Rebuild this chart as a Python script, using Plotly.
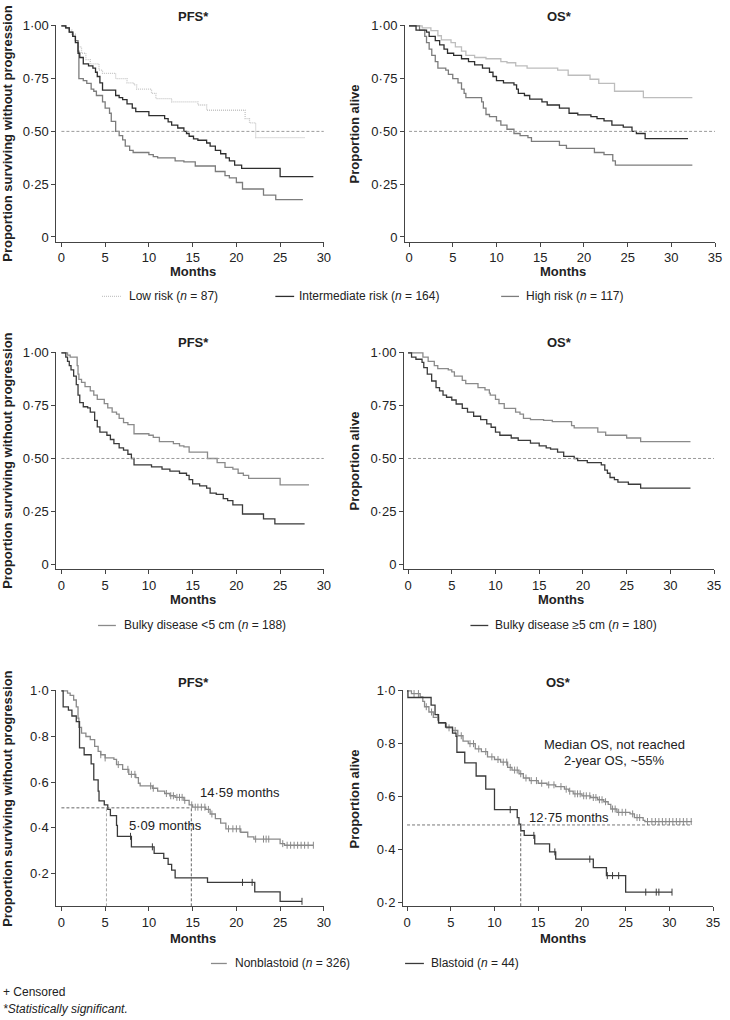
import numpy as np
import plotly.graph_objects as go

W, H = 730, 1020
FONT = "Liberation Sans, Arial, Helvetica, sans-serif"

# ---------------- DATA ----------------
# Row 1: PFS by risk group
low_pfs_t = [0, 0.4, 0.8, 1.2, 1.6, 1.9, 2.3, 2.8, 3.3, 4.3, 4.7, 6.2, 7.5, 8.3, 8.6, 10.3, 10.8, 12.6, 15.6, 16.6, 21.0, 21.5, 22.2, 27.8]
low_pfs_s = [1.00, 0.99, 0.98, 0.96, 0.93, 0.90, 0.87, 0.84, 0.82, 0.79, 0.775, 0.75, 0.73, 0.72, 0.70, 0.68, 0.655, 0.64, 0.625, 0.60, 0.56, 0.54, 0.47, 0.47]
int_pfs_t = [0, 0.5, 0.9, 1.3, 1.6, 1.9, 2.1, 2.5, 3.1, 3.6, 3.9, 4.1, 4.4, 4.7, 6.2, 6.6, 7.0, 7.5, 8.1, 8.5, 10.0, 11.8, 12.2, 12.6, 13.3, 14.0, 14.3, 14.6, 15.1, 15.6, 16.6, 17.0, 17.6, 18.2, 18.8, 19.2, 19.8, 20.6, 25.0, 28.8]
int_pfs_s = [1.00, 0.99, 0.97, 0.95, 0.92, 0.87, 0.85, 0.82, 0.81, 0.80, 0.78, 0.76, 0.73, 0.695, 0.67, 0.66, 0.65, 0.63, 0.61, 0.594, 0.575, 0.56, 0.545, 0.53, 0.516, 0.50, 0.49, 0.477, 0.465, 0.458, 0.445, 0.43, 0.41, 0.394, 0.375, 0.36, 0.34, 0.325, 0.286, 0.286]
high_pfs_t = [0, 0.5, 0.9, 1.3, 1.6, 1.9, 2.0, 2.5, 2.9, 3.4, 3.7, 4.0, 4.7, 5.0, 5.5, 5.7, 6.2, 6.6, 7.0, 7.3, 7.8, 8.2, 10.0, 10.5, 11.0, 13.0, 14.0, 15.3, 17.6, 18.7, 19.2, 20.0, 20.7, 23.1, 24.5, 27.6]
high_pfs_s = [1.00, 0.99, 0.97, 0.95, 0.93, 0.88, 0.75, 0.74, 0.727, 0.70, 0.69, 0.67, 0.64, 0.61, 0.586, 0.547, 0.50, 0.48, 0.46, 0.43, 0.41, 0.40, 0.39, 0.38, 0.375, 0.36, 0.356, 0.336, 0.31, 0.29, 0.28, 0.258, 0.227, 0.198, 0.177, 0.177]

# Row 1: OS by risk group
low_os_t = [0, 1.5, 2.5, 3.3, 3.7, 4.8, 5.3, 6.0, 6.5, 7.5, 8.8, 10.5, 11.2, 12.2, 13.5, 17.0, 18.2, 20.7, 21.7, 23.5, 26.8, 32.4]
low_os_s = [1.00, 0.99, 0.977, 0.953, 0.933, 0.92, 0.90, 0.88, 0.86, 0.85, 0.844, 0.83, 0.825, 0.81, 0.80, 0.79, 0.766, 0.747, 0.727, 0.69, 0.66, 0.66]
int_os_t = [0, 0.8, 2.0, 2.3, 3.0, 3.5, 4.0, 4.4, 5.1, 6.0, 6.8, 7.5, 8.4, 9.2, 9.6, 10.0, 10.8, 12.0, 12.3, 12.5, 13.2, 13.8, 15.2, 15.8, 17.2, 18.3, 19.3, 20.8, 21.5, 22.3, 23.2, 24.5, 25.5, 26.0, 27.0, 31.9]
int_os_s = [1.00, 0.98, 0.97, 0.95, 0.93, 0.91, 0.89, 0.87, 0.86, 0.844, 0.83, 0.815, 0.80, 0.78, 0.76, 0.74, 0.73, 0.72, 0.70, 0.68, 0.67, 0.653, 0.64, 0.625, 0.61, 0.586, 0.578, 0.57, 0.56, 0.55, 0.53, 0.52, 0.50, 0.49, 0.466, 0.466]
high_os_t = [0, 1.2, 1.8, 2.0, 2.3, 2.6, 3.0, 3.3, 4.2, 4.5, 5.0, 5.6, 6.0, 6.3, 6.5, 8.3, 8.5, 8.8, 9.2, 10.0, 10.5, 11.2, 12.0, 12.7, 13.6, 14.0, 17.2, 18.0, 21.2, 22.3, 23.3, 23.6, 32.4]
high_os_s = [1.00, 0.98, 0.95, 0.92, 0.89, 0.86, 0.83, 0.80, 0.79, 0.77, 0.75, 0.73, 0.70, 0.68, 0.66, 0.64, 0.61, 0.58, 0.57, 0.55, 0.53, 0.51, 0.49, 0.48, 0.47, 0.453, 0.434, 0.42, 0.40, 0.39, 0.36, 0.34, 0.34]

# Row 2: bulky disease
lt5_pfs_t = [0, 0.7, 1.0, 1.8, 1.9, 2.0, 2.3, 2.7, 3.3, 3.7, 4.1, 4.9, 5.3, 5.8, 6.3, 6.6, 7.1, 7.6, 8.3, 10.0, 10.5, 11.2, 12.8, 13.5, 14.0, 14.6, 16.7, 17.8, 18.7, 19.6, 20.2, 20.8, 21.4, 25.0, 28.3]
lt5_pfs_s = [1.00, 0.99, 0.98, 0.94, 0.90, 0.875, 0.86, 0.84, 0.82, 0.80, 0.78, 0.76, 0.74, 0.72, 0.71, 0.69, 0.67, 0.66, 0.617, 0.61, 0.60, 0.58, 0.57, 0.56, 0.555, 0.53, 0.50, 0.48, 0.458, 0.45, 0.43, 0.42, 0.406, 0.375, 0.375]
ge5_pfs_t = [0, 0.5, 0.7, 0.9, 1.1, 1.4, 1.7, 1.9, 2.1, 2.5, 3.0, 3.3, 3.8, 4.1, 4.4, 5.2, 5.6, 6.0, 6.6, 7.1, 7.6, 8.0, 8.3, 10.3, 11.5, 12.4, 13.5, 14.3, 14.6, 15.0, 15.8, 16.6, 17.0, 17.7, 18.5, 19.0, 19.6, 20.7, 23.1, 24.4, 27.8]
ge5_pfs_s = [1.00, 0.98, 0.96, 0.94, 0.92, 0.89, 0.85, 0.80, 0.765, 0.745, 0.74, 0.72, 0.68, 0.65, 0.625, 0.61, 0.59, 0.57, 0.55, 0.54, 0.52, 0.50, 0.47, 0.46, 0.45, 0.44, 0.43, 0.42, 0.40, 0.38, 0.37, 0.36, 0.336, 0.33, 0.31, 0.30, 0.28, 0.237, 0.214, 0.19, 0.19]
lt5_os_t = [0, 1.7, 2.3, 3.0, 3.4, 4.6, 5.0, 5.3, 6.2, 6.6, 8.0, 8.8, 9.3, 9.4, 10.0, 10.4, 11.0, 12.3, 12.8, 13.2, 14.0, 15.5, 16.5, 18.7, 19.0, 21.7, 22.6, 25.0, 26.6, 32.3]
lt5_os_s = [1.00, 0.98, 0.96, 0.94, 0.926, 0.92, 0.91, 0.89, 0.87, 0.855, 0.836, 0.825, 0.81, 0.80, 0.78, 0.76, 0.737, 0.72, 0.71, 0.69, 0.684, 0.68, 0.675, 0.656, 0.645, 0.625, 0.61, 0.597, 0.58, 0.58]
ge5_os_t = [0, 0.4, 0.9, 1.6, 1.8, 2.2, 2.7, 3.2, 3.6, 4.0, 4.4, 5.0, 5.5, 6.2, 6.8, 7.5, 8.3, 9.0, 9.5, 10.0, 10.5, 11.8, 12.6, 14.0, 15.0, 15.8, 16.3, 17.1, 17.8, 19.0, 19.4, 20.5, 22.1, 22.5, 22.8, 23.1, 23.6, 24.0, 25.2, 26.6, 32.3]
ge5_os_s = [1.00, 0.98, 0.97, 0.955, 0.93, 0.90, 0.867, 0.836, 0.82, 0.80, 0.79, 0.777, 0.758, 0.737, 0.72, 0.70, 0.684, 0.664, 0.648, 0.625, 0.61, 0.597, 0.586, 0.573, 0.56, 0.55, 0.544, 0.53, 0.51, 0.50, 0.49, 0.48, 0.47, 0.445, 0.43, 0.41, 0.40, 0.388, 0.378, 0.36, 0.36]

# Row 3: blastoid vs nonblastoid
nb_pfs_t = [0, 0.7, 1.0, 1.4, 1.7, 1.9, 2.0, 2.3, 2.8, 3.3, 3.8, 4.2, 4.5, 5.0, 6.0, 6.3, 7.0, 7.7, 8.5, 8.8, 9.0, 10.4, 11.0, 11.8, 12.4, 13.0, 14.0, 14.6, 15.0, 16.5, 17.0, 17.6, 18.2, 18.8, 20.5, 21.3, 22.0, 25.0, 25.5, 28.8]
nb_pfs_s = [1.00, 0.99, 0.98, 0.96, 0.93, 0.88, 0.84, 0.815, 0.80, 0.786, 0.757, 0.735, 0.72, 0.706, 0.70, 0.677, 0.656, 0.634, 0.62, 0.595, 0.583, 0.573, 0.56, 0.55, 0.54, 0.533, 0.52, 0.50, 0.49, 0.48, 0.46, 0.44, 0.42, 0.395, 0.38, 0.36, 0.35, 0.33, 0.323, 0.323]
nb_pfs_cens = [4.5, 5.0, 6.5, 7.6, 8.0, 8.4, 10.2, 10.5, 12.0, 12.5, 12.8, 13.2, 13.5, 13.8, 14.1, 14.9, 15.3, 15.6, 16.0, 16.4, 16.8, 17.2, 19.1, 19.6, 20.0, 20.4, 22.2, 23.1, 23.4, 23.7, 25.3, 25.8, 26.2, 26.6, 27.0, 27.4, 27.8, 28.2, 28.8]
bl_pfs_t = [0, 0.2, 0.8, 1.2, 1.7, 2.07, 2.6, 3.4, 3.7, 4.2, 4.3, 4.9, 5.3, 5.6, 6.3, 6.4, 8.0, 10.6, 11.7, 12.2, 12.6, 13.0, 16.7, 22.1, 25.0, 27.5]
bl_pfs_s = [1.00, 0.93, 0.916, 0.89, 0.865, 0.75, 0.72, 0.68, 0.61, 0.56, 0.518, 0.50, 0.48, 0.453, 0.41, 0.362, 0.316, 0.287, 0.265, 0.239, 0.214, 0.18, 0.16, 0.118, 0.077, 0.077]
bl_pfs_cens = [7.9, 10.4, 20.7, 21.8, 27.5]

nb_os_t = [0, 0.5, 1.5, 1.8, 2.0, 2.5, 3.0, 3.6, 4.5, 5.2, 5.8, 6.4, 7.0, 7.8, 8.5, 9.2, 10.0, 10.7, 11.5, 12.0, 12.8, 13.3, 14.0, 15.0, 16.0, 17.0, 18.0, 18.5, 19.0, 20.0, 21.0, 21.8, 22.5, 23.0, 23.3, 24.0, 25.5, 26.0, 27.0, 27.2, 32.6]
nb_os_s = [1.00, 0.99, 0.977, 0.96, 0.94, 0.92, 0.90, 0.877, 0.86, 0.85, 0.83, 0.81, 0.80, 0.78, 0.77, 0.75, 0.74, 0.73, 0.71, 0.70, 0.686, 0.67, 0.66, 0.65, 0.644, 0.6375, 0.6275, 0.62, 0.61, 0.6025, 0.596, 0.5875, 0.58, 0.57, 0.5525, 0.54, 0.534, 0.52, 0.509, 0.505, 0.505]
nb_os_cens = [0.8, 1.3, 2.2, 2.8, 3.5, 4.8, 5.5, 6.2, 7.2, 7.6, 8.2, 9.0, 9.7, 10.4, 11.0, 11.4, 11.8, 12.3, 12.6, 13.0, 13.6, 14.2, 14.8, 15.4, 16.2, 16.8, 17.6, 18.2, 18.6, 19.2, 19.5, 19.8, 20.2, 20.5, 20.9, 21.3, 21.6, 22.0, 22.3, 22.7, 23.5, 23.8, 24.2, 24.6, 25.0, 25.8, 26.3, 26.6, 27.5, 28.0, 28.4, 28.8, 29.2, 29.6, 30.0, 30.4, 30.8, 31.2, 31.6, 32.0, 32.5]
bl_os_t = [0, 0.1, 2.75, 3.2, 3.6, 4.4, 5.2, 5.6, 5.7, 6.6, 7.9, 9.0, 10.0, 12.6, 12.8, 13.0, 13.4, 14.6, 16.3, 17.0, 21.3, 22.8, 25.0, 30.3]
bl_os_s = [1.00, 0.975, 0.946, 0.91, 0.88, 0.8625, 0.84, 0.8275, 0.7675, 0.7275, 0.6775, 0.6275, 0.55, 0.52, 0.495, 0.47, 0.4525, 0.42, 0.39, 0.3625, 0.33, 0.30, 0.2375, 0.2375]
bl_os_cens = [11.8, 14.5, 16.9, 20.9, 22.9, 23.5, 24.2, 27.3, 28.5, 28.8, 30.3]

# Median reference values
pfs_median_level = 0.487
pfs_median_times = [5.15, 14.85]
os_median_level = 0.492
os_median_time = 13.0
os_median_xmax = 32.6

# Tick labels
ytick_vals_a = [0, 0.25, 0.5, 0.75, 1.0]
ytick_text_a = ["0", "0·25", "0·50", "0·75", "1·00"]
ytick_vals_b = [0.2, 0.4, 0.6, 0.8, 1.0]
ytick_text_b = ["0·2", "0·4", "0·6", "0·8", "1·0"]

# ---------------- COLORS ----------------
C_LIGHT = "#c6c6c6"
C_DARK = "#2e2e2e"
C_MID = "#7c7c7c"
C_GRAY = "#8a8a8a"
C_BLK = "#3a3a3a"

# ---------------- PANEL GEOMETRY (px) ----------------
# (x pixel of t=0, px per month, x range, y pixel of S=1, px per unit, y range, last x tick)
panels = [
    (62, 265 / 30, [-0.57, 30], 20, 213, [-0.023, 1.005], 30),
    (413, 309 / 35, [-0.45, 35], 20, 213, [-0.023, 1.005], 35),
    (62, 265 / 30, [-0.57, 30], 350, 213, [-0.023, 1.005], 30),
    (412, 309 / 35, [-0.45, 35], 350, 213, [-0.023, 1.005], 35),
    (62, 265 / 30, [-0.57, 30], 691, 230, [0.055, 1.005], 30),
    (411, 309 / 35, [-0.45, 35], 691, 266.25, [0.184, 1.005], 35),
]


def step_val(ts, ss, t):
    i = int(np.searchsorted(np.array(ts), t, side="right")) - 1
    return ss[max(i, 0)]


fig = go.Figure()
layout = dict(
    width=W, height=H, margin=dict(l=0, r=0, t=0, b=0),
    paper_bgcolor="white", plot_bgcolor="white", showlegend=False,
    font=dict(family=FONT, size=13, color="#222"),
)

for k, (x0, xu, xr, y1, yu, yr, xmax) in enumerate(panels, start=1):
    left = x0 + xr[0] * xu
    right = x0 + xr[1] * xu
    top = y1 - (yr[1] - 1) * yu
    bottom = y1 + (1 - yr[0]) * yu
    sfx = "" if k == 1 else str(k)
    row3 = k >= 5
    layout["xaxis" + sfx] = dict(
        domain=[left / W, right / W], range=xr, anchor="y" + sfx,
        tickvals=list(range(0, xmax + 1, 5)), ticks="outside", ticklen=4,
        tickcolor="#444", showline=True, linecolor="#444", linewidth=1.2,
        showgrid=False, zeroline=False, tickfont=dict(size=13, color="#222"),
    )
    layout["yaxis" + sfx] = dict(
        domain=[1 - bottom / H, 1 - top / H], range=yr, anchor="x" + sfx,
        tickvals=ytick_vals_b if row3 else ytick_vals_a,
        ticktext=ytick_text_b if row3 else ytick_text_a,
        ticks="outside", ticklen=4, tickcolor="#444", showline=True,
        linecolor="#444", linewidth=1.2, showgrid=False, zeroline=False,
        tickfont=dict(size=13, color="#222"),
    )

curves = [
    (1, low_pfs_t, low_pfs_s, C_LIGHT, "1px,1px", None),
    (1, high_pfs_t, high_pfs_s, C_MID, "solid", None),
    (1, int_pfs_t, int_pfs_s, C_DARK, "solid", None),
    (2, low_os_t, low_os_s, "#bdbdbd", "solid", None),
    (2, high_os_t, high_os_s, C_MID, "solid", None),
    (2, int_os_t, int_os_s, C_DARK, "solid", None),
    (3, lt5_pfs_t, lt5_pfs_s, C_GRAY, "solid", None),
    (3, ge5_pfs_t, ge5_pfs_s, C_BLK, "solid", None),
    (4, lt5_os_t, lt5_os_s, C_GRAY, "solid", None),
    (4, ge5_os_t, ge5_os_s, C_BLK, "solid", None),
    (5, nb_pfs_t, nb_pfs_s, C_GRAY, "solid", nb_pfs_cens),
    (5, bl_pfs_t, bl_pfs_s, C_BLK, "solid", bl_pfs_cens),
    (6, nb_os_t, nb_os_s, C_GRAY, "solid", nb_os_cens),
    (6, bl_os_t, bl_os_s, C_BLK, "solid", bl_os_cens),
]

shapes = []
# 0.5 reference lines (rows 1-2)
for k in (1, 2, 3, 4):
    sfx = "" if k == 1 else str(k)
    shapes.append(dict(type="line", xref="x" + sfx, yref="y" + sfx,
                       x0=0, x1=panels[k - 1][6], y0=0.5, y1=0.5,
                       line=dict(color="#9a9a9a", width=1, dash="3px,2px")))

for (k, ts, ss, col, dash, cens) in curves:
    sfx = "" if k == 1 else str(k)
    fig.add_trace(go.Scatter(
        x=ts, y=ss, mode="lines", line=dict(color=col, width=1.3, dash=dash, shape="hv"),
        xaxis="x" + sfx, yaxis="y" + sfx, hoverinfo="skip"))
    if cens:
        cy = [step_val(ts, ss, c) for c in cens]
        fig.add_trace(go.Scatter(
            x=cens, y=cy, mode="markers",
            marker=dict(symbol="line-ns", size=5, line=dict(color=col, width=1)),
            xaxis="x" + sfx, yaxis="y" + sfx, hoverinfo="skip"))

# median dashed lines, row 3
shapes.append(dict(type="line", xref="x5", yref="y5", x0=0, x1=pfs_median_times[1],
                   y0=pfs_median_level, y1=pfs_median_level,
                   line=dict(color="#666", width=1, dash="3px,2px")))
shapes.append(dict(type="line", xref="x5", yref="y5", x0=pfs_median_times[0], x1=pfs_median_times[0],
                   y0=0.055, y1=pfs_median_level, line=dict(color="#aaa", width=1, dash="3px,2px")))
shapes.append(dict(type="line", xref="x5", yref="y5", x0=pfs_median_times[1], x1=pfs_median_times[1],
                   y0=0.055, y1=pfs_median_level, line=dict(color="#666", width=1, dash="3px,2px")))
shapes.append(dict(type="line", xref="x6", yref="y6", x0=0, x1=os_median_xmax,
                   y0=os_median_level, y1=os_median_level,
                   line=dict(color="#777", width=1, dash="3px,2px")))
shapes.append(dict(type="line", xref="x6", yref="y6", x0=os_median_time, x1=os_median_time,
                   y0=0.184, y1=os_median_level, line=dict(color="#666", width=1, dash="3px,2px")))

annotations = []


def txt(x, y, text, size=13, anchor="center", angle=0, color="#222"):
    annotations.append(dict(x=x / W, y=1 - y / H, xref="paper", yref="paper", text=text,
                            showarrow=False, xanchor=anchor, yanchor="middle",
                            textangle=angle, font=dict(size=size, color=color, family=FONT)))


def legend_item(xl0, xl1, xt, y, label, color, dash="solid"):
    shapes.append(dict(type="line", xref="paper", yref="paper", x0=xl0 / W, x1=xl1 / W,
                       y0=1 - y / H, y1=1 - y / H, line=dict(color=color, width=1.3, dash=dash)))
    txt(xt, y, label, size=12, anchor="left")


# titles
for (x, y, t) in [(195, 11, "PFS*"), (565, 11, "OS*"), (195, 340, "PFS*"), (565, 340, "OS*"),
                  (195, 683, "PFS*"), (564, 683, "OS*")]:
    txt(x, y, "<b>" + t + "</b>")
# x axis titles
for (x, y) in [(195, 268), (568, 268), (195, 599), (566, 599), (195, 941), (568, 941)]:
    txt(x, y, "<b>Months</b>")
# y axis titles
for yc in (129, 459, 800):
    txt(8, yc, "<b>Proportion surviving without progression</b>", angle=-90)
    txt(358, yc, "<b>Proportion alive</b>", angle=-90)

# legends
legend_item(103, 122, 128, 293, "Low risk (<i>n</i> = 87)", C_LIGHT, "1px,1px")
legend_item(278, 297, 300, 293, "Intermediate risk (<i>n</i> = 164)", C_DARK)
legend_item(506, 524, 529, 293, "High risk (<i>n</i> = 117)", C_MID)
legend_item(99, 117, 123, 625, "Bulky disease <5 cm (<i>n</i> = 188)", C_GRAY)
legend_item(475, 493, 498, 625, "Bulky disease ≥5 cm (<i>n</i> = 180)", C_BLK)
legend_item(213, 229, 235, 966, "Nonblastoid (<i>n</i> = 326)", C_GRAY)
legend_item(409, 428, 433, 966, "Blastoid (<i>n</i> = 44)", C_BLK)

# in-panel annotations
txt(200, 793, "14·59 months", anchor="left")
txt(128, 827, "5·09 months", anchor="left")
txt(620, 745, "Median OS, not reached")
txt(620, 761, "2-year OS, ~55%")
txt(532, 819, "12·75 months", anchor="left")

# footnotes
txt(1, 995, "+ Censored", size=12, anchor="left")
txt(1, 1012, "<i>*Statistically significant.</i>", size=12, anchor="left")

layout["shapes"] = shapes
layout["annotations"] = annotations
fig.update_layout(**layout)
fig.write_html("out.html", config={"displayModeBar": False},
               post_script="document.body.style.margin='0';document.body.style.overflow='hidden';")
